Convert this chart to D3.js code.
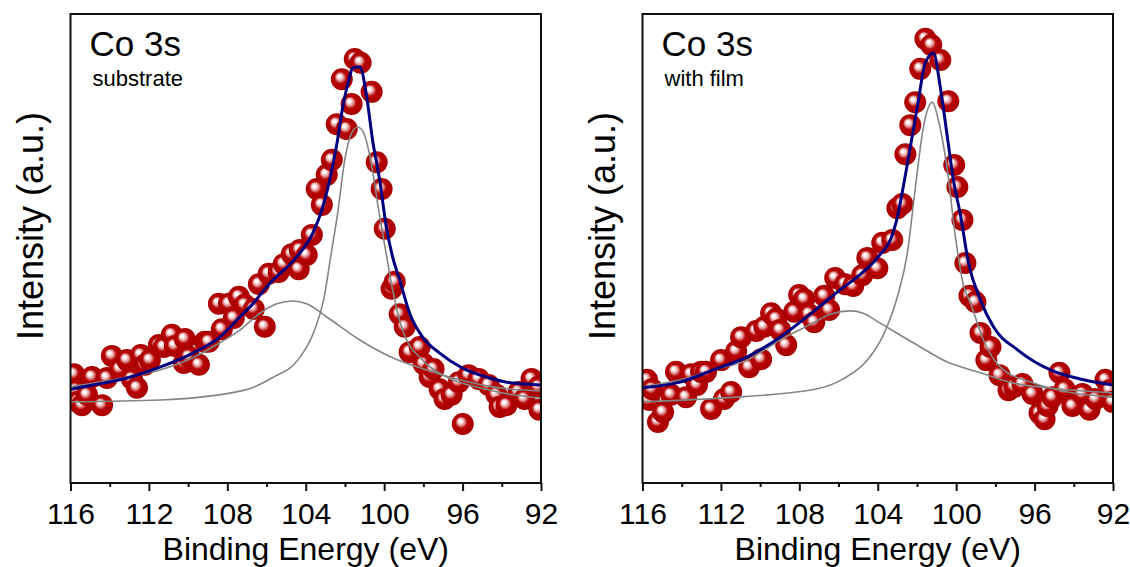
<!DOCTYPE html>
<html>
<head>
<meta charset="utf-8">
<script src="https://cdn.jsdelivr.net/npm/d3@7"></script>
<style>
  body { margin: 0; background: #fff; }
  svg { display: block; font-family: "Liberation Sans", Arial, sans-serif; }
</style>
</head>
<body>
<svg width="1130" height="567"></svg>
<script>
// Tick labels for the binding energy axis
const energyTicks = [116, 112, 108, 104, 100, 96, 92];
const minorTicks = [114, 110, 106, 102, 98, 94];

// Panel text
const panelTitles = ["Co 3s", "Co 3s"];
const panelNotes = ["substrate", "with film"];

// Co 3s measured spectrum, substrate (binding energy in eV, intensity in a.u.)
const substrateEnergy = [115.82, 115.72, 115.62, 115.41, 115.16, 114.90, 114.39, 114.14, 113.89, 113.48,
  113.12, 112.87, 112.61, 112.41, 112.20, 111.95, 111.49, 111.24, 110.83, 110.68,
  110.22, 110.17, 109.96, 109.45, 109.15, 108.95, 108.43, 108.28, 107.92, 107.67,
  107.41, 107.11, 106.65, 106.39, 106.09, 105.89, 105.38, 105.12, 104.71, 104.36,
  104.31, 103.95, 103.69, 103.44, 103.18, 102.93, 102.67, 102.42, 102.16, 101.91,
  101.66, 101.50, 101.20, 100.64, 100.38, 100.13, 99.97, 99.62, 99.46, 99.21,
  98.95, 98.70, 98.19, 97.99, 97.68, 97.48, 97.17, 96.92, 96.56, 96.20,
  95.99, 95.69, 95.18, 94.67, 94.27, 94.11, 93.76, 93.15, 92.84, 92.48,
  92.13, 92.08];
const substrateIntensity = [23.2, 19.8, 17.3, 16.6, 18.8, 22.6, 16.6, 22.4, 27.1, 24.3,
  26.2, 22.2, 20.3, 27.3, 25.2, 26.2, 29.4, 29.0, 31.6, 29.2,
  25.6, 30.7, 26.9, 25.2, 30.1, 30.1, 38.2, 32.8, 38.2, 35.2,
  39.7, 38.0, 37.1, 42.4, 33.3, 44.6, 45.0, 46.7, 48.8, 45.6,
  49.7, 48.6, 52.9, 62.7, 59.3, 65.7, 68.9, 76.5, 86.1, 75.5,
  80.8, 90.4, 89.6, 83.4, 68.4, 62.7, 54.2, 41.4, 42.9, 36.0,
  33.3, 27.9, 29.0, 25.4, 22.6, 24.3, 20.0, 17.9, 18.8, 21.5,
  12.6, 23.0, 22.2, 20.9, 18.8, 16.2, 16.6, 19.4, 17.9, 22.2,
  20.5, 15.6];

// Co 3s measured spectrum, with film
const filmEnergy = [115.77, 115.67, 115.51, 115.21, 114.95, 114.54, 114.29, 113.78, 113.52, 113.22,
  113.01, 112.76, 112.50, 111.99, 111.84, 111.48, 111.22, 110.97, 110.56, 110.20,
  109.95, 109.79, 109.44, 109.18, 108.98, 108.67, 108.26, 108.01, 107.75, 107.50,
  107.24, 106.73, 106.48, 106.17, 105.66, 105.25, 104.79, 104.53, 104.02, 103.77,
  103.26, 103.00, 102.75, 102.59, 102.34, 102.09, 101.83, 101.57, 101.27, 100.81,
  100.40, 100.10, 99.94, 99.68, 99.53, 99.32, 99.02, 98.76, 98.46, 98.25,
  97.79, 97.33, 97.03, 96.62, 96.11, 95.75, 95.49, 95.34, 95.09, 94.73,
  94.47, 94.07, 93.56, 93.20, 92.89, 92.38, 92.17, 92.02];
const filmIntensity = [22.0, 17.7, 20.0, 13.0, 15.1, 18.8, 23.7, 18.3, 23.2, 20.9,
  23.7, 23.7, 15.8, 26.2, 17.9, 19.4, 28.1, 31.1, 24.7, 32.4,
  26.4, 33.3, 36.2, 35.0, 32.6, 29.4, 36.5, 40.1, 39.2, 36.0,
  34.3, 39.9, 36.9, 43.7, 42.4, 42.0, 44.3, 48.0, 45.8, 51.2,
  51.8, 58.6, 59.5, 70.1, 76.3, 81.2, 88.3, 94.7, 93.4, 90.2,
  81.4, 67.8, 63.1, 56.1, 46.9, 39.9, 38.6, 32.0, 26.2, 29.0,
  23.0, 19.8, 20.5, 21.1, 19.0, 14.9, 13.6, 16.4, 18.3, 23.5,
  20.0, 16.4, 19.0, 15.6, 17.9, 22.0, 19.8, 17.3];

// Fit results: [binding energy, intensity]
const substrateEnvelope = [[116.0, 20.0], [114.85, 20.9], [113.12, 22.4], [111.44, 24.7], [109.76, 27.7],
  [108.38, 31.1], [107.36, 35.4], [106.85, 37.5], [105.83, 42.6], [104.46, 48.2], [103.64, 53.3],
  [103.18, 58.2], [102.78, 64.6], [102.42, 72.1], [102.11, 80.2], [101.76, 86.6], [101.61, 88.5],
  [101.24, 88.7], [100.89, 82.3], [100.59, 73.1], [100.23, 64.6], [99.89, 54.6], [99.57, 48.2],
  [99.21, 43.3], [98.70, 36.2], [98.04, 31.1], [97.17, 27.7], [96.00, 24.5], [94.62, 22.4],
  [93.45, 21.3], [92.0, 20.9]];
const substrateNarrow = [[116.0, 17.3], [111.44, 17.7], [107.11, 19.8], [105.73, 22.4], [104.41, 26.2],
  [103.59, 32.2], [103.08, 39.2], [102.73, 48.2], [102.37, 57.6], [102.01, 68.9], [101.66, 74.6],
  [101.35, 75.9], [101.04, 74.6], [100.69, 68.9], [100.28, 58.2], [99.87, 48.2], [99.57, 41.2],
  [99.06, 32.6], [98.04, 26.2], [96.82, 22.6], [95.13, 20.3], [93.45, 18.8], [92.0, 18.1]];
const substrateBroad = [[116.0, 20.5], [113.12, 22.6], [111.44, 24.1], [109.76, 26.7], [108.38, 29.9],
  [107.36, 32.6], [106.34, 36.2], [105.48, 38.2], [104.66, 38.8], [103.95, 38.2], [102.93, 35.4],
  [101.24, 30.5], [99.57, 26.7], [97.83, 24.1], [96.15, 22.0], [94.47, 20.5], [92.0, 19.6]];

const filmEnvelope = [[116.0, 20.3], [114.08, 21.5], [112.40, 24.1], [110.66, 26.9], [108.98, 31.1],
  [107.30, 36.5], [106.07, 40.7], [104.74, 45.0], [103.98, 48.2], [103.21, 53.5], [103.00, 56.7],
  [102.70, 63.1], [102.34, 71.6], [101.98, 80.2], [101.57, 89.6], [101.16, 91.7], [100.81, 84.4],
  [100.45, 73.8], [100.14, 64.6], [99.78, 57.1], [99.37, 46.9], [98.76, 39.0], [98.10, 33.3],
  [96.87, 28.4], [95.19, 24.1], [93.50, 22.0], [92.0, 20.9]];
const filmNarrow = [[116.0, 17.3], [112.04, 18.1], [107.19, 20.0], [105.76, 22.2], [104.53, 26.2],
  [103.71, 31.6], [103.00, 39.7], [102.49, 49.0], [102.08, 63.1], [101.67, 75.9], [101.21, 81.2],
  [100.91, 77.4], [100.45, 66.7], [100.04, 52.5], [99.63, 42.2], [99.27, 38.4], [98.61, 30.5],
  [97.74, 24.7], [96.06, 21.3], [94.32, 19.4], [92.0, 18.3]];
const filmBroad = [[116.0, 20.5], [114.08, 22.0], [112.40, 24.1], [110.66, 26.2], [108.98, 30.5],
  [107.30, 34.1], [106.43, 36.0], [105.40, 36.7], [104.74, 36.2], [103.88, 34.1], [102.19, 29.9],
  [100.45, 25.8], [98.76, 23.5], [97.08, 21.3], [95.34, 20.3], [92.0, 19.2]];

// Layout
let plotTop = 14;
let plotBottom = 483;

let svg = d3.select('svg');
let defs = svg.append('defs');

// Shaded ball used for the data points
let ball = defs.append('radialGradient')
  .attr('id', 'ball')
  .attr('cx', 0.5).attr('cy', 0.5).attr('r', 0.5)
  .attr('fx', 0.37).attr('fy', 0.35);
ball.append('stop').attr('offset', '0%').attr('stop-color', '#ffffff');
ball.append('stop').attr('offset', '12%').attr('stop-color', '#ffffff');
ball.append('stop').attr('offset', '32%').attr('stop-color', '#e8a4a4');
ball.append('stop').attr('offset', '54%').attr('stop-color', '#b70303');
ball.append('stop').attr('offset', '100%').attr('stop-color', '#a80000');

let panels = [
  { id: 'left', left: 70.5, right: 541, labelX: 43, energy: substrateEnergy, intensity: substrateIntensity,
    envelope: substrateEnvelope, narrow: substrateNarrow, broad: substrateBroad, title: panelTitles[0], note: panelNotes[0] },
  { id: 'right', left: 642.5, right: 1113, labelX: 615, energy: filmEnergy, intensity: filmIntensity,
    envelope: filmEnvelope, narrow: filmNarrow, broad: filmBroad, title: panelTitles[1], note: panelNotes[1] }
];

panels.forEach(drawPanel);

function drawPanel(p) {
  let xScale = d3.scaleLinear().domain([116, 92]).range([p.left, p.right]);
  let yScale = d3.scaleLinear().domain([0, 100]).range([plotBottom, plotTop]);

  defs.append('clipPath')
    .attr('id', p.id + '-clip')
    .append('rect')
    .attr('x', p.left).attr('y', plotTop)
    .attr('width', p.right - p.left).attr('height', plotBottom - plotTop);

  let plot = svg.append('g').attr('clip-path', `url(#${p.id}-clip)`);

  // Measured points
  plot.selectAll('circle')
    .data(d3.zip(p.energy, p.intensity))
    .enter()
    .append('circle')
    .attr('cx', d => xScale(d[0]))
    .attr('cy', d => yScale(d[1]))
    .attr('r', 11)
    .attr('fill', 'url(#ball)');

  let line = d3.line()
    .x(d => xScale(d[0]))
    .y(d => yScale(d[1]))
    .curve(d3.curveMonotoneX);

  // Fitted components and envelope
  [p.narrow, p.broad].forEach(c => {
    plot.append('path')
      .attr('d', line(c))
      .attr('fill', 'none')
      .attr('stroke', '#858585')
      .attr('stroke-width', 1.6);
  });
  plot.append('path')
    .attr('d', line(p.envelope))
    .attr('fill', 'none')
    .attr('stroke', '#000080')
    .attr('stroke-width', 3);

  // Frame
  svg.append('rect')
    .attr('x', p.left).attr('y', plotTop)
    .attr('width', p.right - p.left).attr('height', plotBottom - plotTop)
    .attr('fill', 'none')
    .attr('stroke', '#111')
    .attr('stroke-width', 2);

  // X axis: major and minor ticks pointing outward
  let xAxis = svg.append('g')
    .attr('transform', `translate(0, ${plotBottom})`)
    .call(d3.axisBottom(xScale).tickValues(energyTicks).tickSize(8).tickPadding(12));
  xAxis.select('.domain').remove();
  xAxis.selectAll('line').attr('stroke', '#111').attr('stroke-width', 2);
  xAxis.selectAll('text')
    .attr('fill', '#000')
    .style('font-size', '30px')
    .style('font-family', '"Liberation Sans", Arial, sans-serif');

  let xMinor = svg.append('g')
    .attr('transform', `translate(0, ${plotBottom})`)
    .call(d3.axisBottom(xScale).tickValues(minorTicks).tickSize(4).tickFormat(''));
  xMinor.select('.domain').remove();
  xMinor.selectAll('line').attr('stroke', '#111').attr('stroke-width', 2);

  // Axis titles
  svg.append('text')
    .text('Binding Energy (eV)')
    .attr('x', (p.left + p.right) / 2)
    .attr('y', 560)
    .attr('text-anchor', 'middle')
    .style('font-size', '32px');

  svg.append('text')
    .text('Intensity (a.u.)')
    .attr('transform', `translate(${p.labelX}, 226) rotate(-90)`)
    .attr('text-anchor', 'middle')
    .style('font-size', '36px');

  // Panel labels
  svg.append('text')
    .text(p.title)
    .attr('x', p.left + 19)
    .attr('y', 56)
    .style('font-size', '35px');

  svg.append('text')
    .text(p.note)
    .attr('x', p.left + 22)
    .attr('y', 86)
    .style('font-size', '22px');
}
</script>
</body>
</html>
